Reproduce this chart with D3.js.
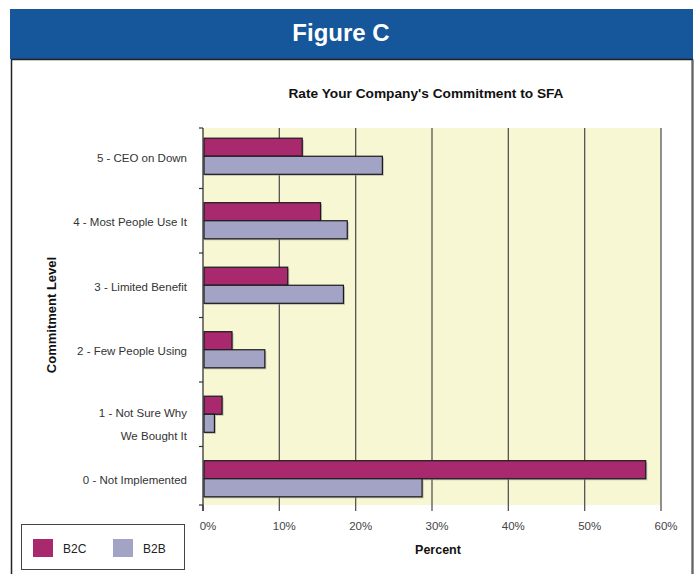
<!DOCTYPE html>
<html>
<head>
<meta charset="utf-8">
<script src="https://cdn.jsdelivr.net/npm/d3@7"></script>
<style>
  html, body { margin: 0; padding: 0; background: #ffffff; }
  svg { display: block; font-family: "Liberation Sans", Arial, Helvetica, sans-serif; }
</style>
</head>
<body>
<svg id="chart" width="697" height="574"></svg>
<script>
// ---- Data ----
const categories = ["5 - CEO on Down", "4 - Most People Use It", "3 - Limited Benefit",
                    "2 - Few People Using", "1 - Not Sure Why|We Bought It", "0 - Not Implemented"];
const seriesNames = ["B2C", "B2B"];
const b2cValues = [13, 15.4, 11.1, 3.8, 2.5, 58];
const b2bValues = [23.5, 18.9, 18.4, 8.1, 1.5, 28.7];
const xTicks = [0, 10, 20, 30, 40, 50, 60];
const colors = { B2C: "#a8296d", B2B: "#a3a3c6" };

const svg = d3.select("#chart");

// ---- Header band ----
svg.append("rect").attr("x", 10).attr("y", 9).attr("width", 683).attr("height", 50).attr("fill", "#16569a");
svg.append("text").attr("x", 341).attr("y", 32).attr("dy", "0.36em")
  .attr("text-anchor", "middle").attr("fill", "#ffffff")
  .attr("font-size", 24).attr("font-weight", "bold").text("Figure C");

// ---- Content box ----
svg.append("path").attr("d", "M11.5,574 V59.5 H692.5 V574")
  .attr("fill", "none").attr("stroke", "#222").attr("stroke-width", 1.5);
svg.append("line").attr("x1", 692.5).attr("x2", 692.5).attr("y1", 60).attr("y2", 574)
  .attr("stroke", "#666").attr("stroke-width", 2);

// ---- Title ----
svg.append("text").attr("x", 426).attr("y", 93).attr("dy", "0.35em")
  .attr("text-anchor", "middle").attr("font-size", 13.7).attr("font-weight", "bold")
  .attr("fill", "#111").text("Rate Your Company's Commitment to SFA");

// ---- Scales ----
const plotLeft = 203, plotRight = 661, plotTop = 128, plotBottom = 505;
const x = d3.scaleLinear().domain([0, 60]).range([plotLeft, plotRight]);
const y0 = d3.scaleBand().domain(categories).range([124, 511]).paddingInner(0.44).paddingOuter(0.22);
const y1 = d3.scaleBand().domain(seriesNames).range([0, y0.bandwidth()]);

// plot background
svg.append("rect").attr("x", plotLeft).attr("y", plotTop)
  .attr("width", plotRight - plotLeft).attr("height", plotBottom - plotTop)
  .attr("fill", "#f7f7d3");

// gridlines
svg.append("g").selectAll("line").data(xTicks.slice(1)).join("line")
  .attr("x1", d => x(d)).attr("x2", d => x(d))
  .attr("y1", plotTop).attr("y2", plotBottom + 6)
  .attr("stroke", "#555").attr("stroke-width", 1.3);

// x tick labels
svg.append("g").selectAll("text").data(xTicks).join("text")
  .attr("x", d => x(d) + 5).attr("y", 526).attr("dy", "0.35em")
  .attr("text-anchor", "middle").attr("font-size", 11.5).attr("fill", "#444")
  .text(d => d + "%");

svg.append("line").attr("x1", x(0)).attr("x2", x(0)).attr("y1", plotBottom).attr("y2", plotBottom + 6)
  .attr("stroke", "#333").attr("stroke-width", 1.2);

// x axis title
svg.append("text").attr("x", 438).attr("y", 550).attr("dy", "0.35em")
  .attr("text-anchor", "middle").attr("font-size", 12.5).attr("font-weight", "bold")
  .attr("fill", "#111").text("Percent");

// ---- Bars ----
const rows = categories.map((c, i) => ({ cat: c, B2C: b2cValues[i], B2B: b2bValues[i] }));
const groups = svg.append("g").selectAll("g").data(rows).join("g")
  .attr("transform", d => `translate(0,${y0(d.cat)})`);
// shadow
groups.selectAll("rect.shadow").data(d => seriesNames.map(s => ({ s, v: d[s] }))).join("rect")
  .attr("class", "shadow")
  .attr("x", x(0) + 1.5).attr("y", d => y1(d.s) + 1.5)
  .attr("width", d => x(d.v) - x(0)).attr("height", y1.bandwidth())
  .attr("fill", "#999").attr("opacity", 0.6);
groups.selectAll("rect.bar").data(d => seriesNames.map(s => ({ s, v: d[s] }))).join("rect")
  .attr("class", "bar")
  .attr("x", x(0) + 1).attr("y", d => y1(d.s))
  .attr("width", d => x(d.v) - x(0) - 1).attr("height", y1.bandwidth())
  .attr("fill", d => colors[d.s]).attr("stroke", "#1a1a1a").attr("stroke-width", 1.2);

// ---- Y axis ----
svg.append("line").attr("x1", plotLeft).attr("x2", plotLeft).attr("y1", plotTop).attr("y2", plotBottom + 6)
  .attr("stroke", "#333").attr("stroke-width", 1.3);
const step = y0.step();
const tickYs = d3.range(categories.length + 1).map(i => Math.min(Math.max(124 + i * step, plotTop), plotBottom));
svg.append("g").selectAll("line").data(tickYs).join("line")
  .attr("x1", plotLeft - 4).attr("x2", plotLeft).attr("y1", d => d).attr("y2", d => d)
  .attr("stroke", "#333").attr("stroke-width", 1.2);

// category labels
const labels = svg.append("g").selectAll("text").data(categories).join("text")
  .attr("text-anchor", "end").attr("font-size", 11.5).attr("fill", "#333")
  .attr("x", 187)
  .attr("y", d => y0(d) + y0.bandwidth() / 2 + 1.5);
labels.each(function(d) {
  const parts = d.split("|");
  const t = d3.select(this);
  parts.forEach((p, i) => {
    t.append("tspan").attr("x", 187).attr("dy", i === 0 ? "0.35em" : 23).text(p);
  });
});
labels.filter(d => d.includes("|")).attr("y", d => y0(d) + y0.bandwidth() / 2 - 1);

// y axis title
svg.append("text").attr("transform", "translate(51,315) rotate(-90)")
  .attr("dy", "0.35em").attr("text-anchor", "middle")
  .attr("font-size", 13).attr("font-weight", "bold").attr("fill", "#111")
  .text("Commitment Level");

// ---- Legend ----
svg.append("rect").attr("x", 21.5).attr("y", 524.5).attr("width", 163).attr("height", 45)
  .attr("fill", "#fff").attr("stroke", "#444").attr("stroke-width", 1);
const legendX = [33, 113];
const leg = svg.append("g").selectAll("g").data(seriesNames).join("g")
  .attr("transform", (d, i) => `translate(${legendX[i]},539)`);
leg.append("rect").attr("width", 20).attr("height", 18).attr("fill", d => colors[d]);
leg.append("text").attr("x", 30).attr("y", 10).attr("dy", "0.35em")
  .attr("font-size", 12).attr("fill", "#222").text(d => d);
</script>
</body>
</html>
